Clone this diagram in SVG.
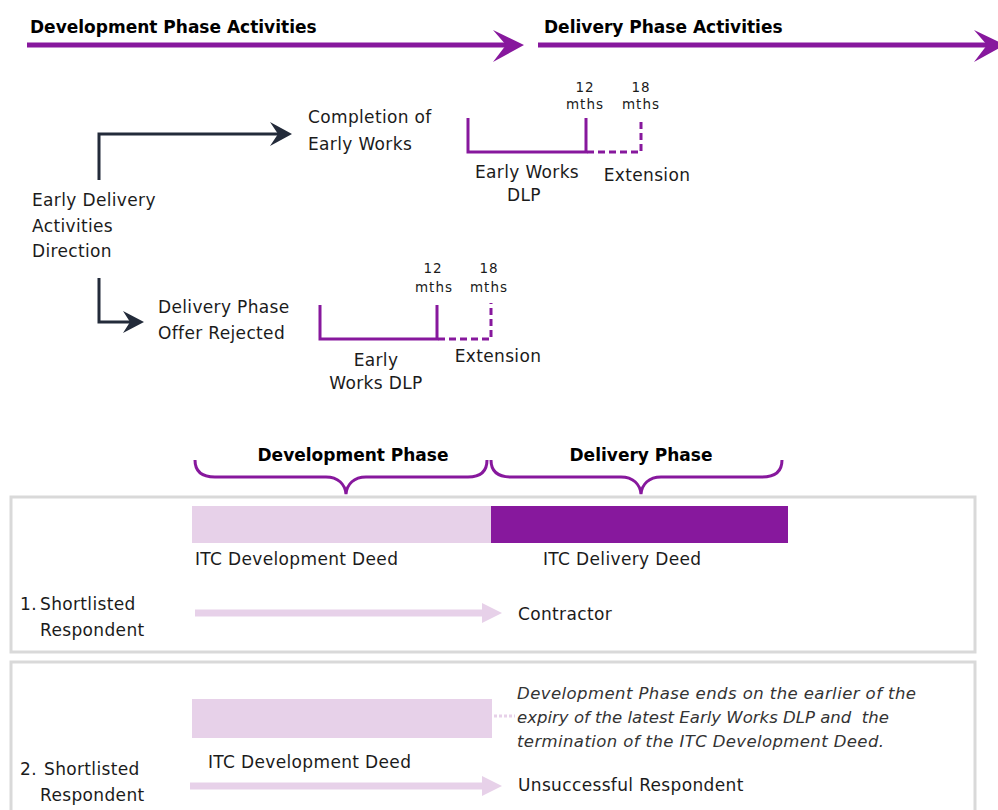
<svg xmlns="http://www.w3.org/2000/svg" width="998" height="810" viewBox="0 0 998 810">
<style>
text{font-family:"DejaVu Sans","Liberation Sans",sans-serif;fill:#1b1b1b;font-size:17px;letter-spacing:0.35px}
.h{font-weight:bold;font-size:17px;fill:#000;letter-spacing:0}
.s{font-size:13.5px;letter-spacing:1px}
.it{font-style:italic;font-size:16.5px;fill:#333;letter-spacing:0;white-space:pre}
.m{text-anchor:middle}
.pur{stroke:#87189D;stroke-width:3;fill:none}
.dash{stroke:#87189D;stroke-width:3;fill:none;stroke-dasharray:7,4}
.dark{stroke:#232B3A;stroke-width:3;fill:none}
.box{fill:#fff;stroke:#D9D9D9;stroke-width:3}
</style>
<rect width="998" height="810" fill="#fff"/>
<g id="phase-arrows">
<line x1="27" y1="45" x2="508" y2="45" stroke="#87189D" stroke-width="5"/>
<polygon points="493,30 524,45 493,62 506,45" fill="#87189D"/>
<line x1="538" y1="45" x2="988" y2="45" stroke="#87189D" stroke-width="5"/>
<polygon points="974,30 1005,45 974,62 987,45" fill="#87189D"/>
<text class="h" x="30" y="33">Development Phase Activities</text>
<text class="h" x="544" y="33">Delivery Phase Activities</text>
</g>
<g id="connectors">
<path class="dark" d="M99,180 V134 H280"/>
<polygon points="270,122 292,134 270,146 278,134" fill="#232B3A"/>
<path class="dark" d="M99,278 V322 H132"/>
<polygon points="123,311 144,322 123,333 130,322" fill="#232B3A"/>
</g>
<g id="early-delivery">
<text x="32" y="206">Early Delivery</text>
<text x="32" y="232">Activities</text>
<text x="32" y="257">Direction</text>
</g>
<g id="completion">
<text x="308" y="123">Completion of</text>
<text x="308" y="150">Early Works</text>
</g>
<g id="dlp-top">
<path class="pur" d="M468,118 V152 H586 V118"/>
<path class="dash" d="M587,152 H641 V118"/>
<text class="s m" x="585" y="92">12</text>
<text class="s m" x="585" y="109">mths</text>
<text class="s m" x="641" y="92">18</text>
<text class="s m" x="641" y="109">mths</text>
<text class="m" x="527" y="178">Early Works</text>
<text class="m" x="524" y="201">DLP</text>
<text class="m" x="647" y="181">Extension</text>
</g>
<g id="rejected">
<text x="158" y="313">Delivery Phase</text>
<text x="158" y="339">Offer Rejected</text>
</g>
<g id="dlp-bottom">
<path class="pur" d="M320,305 V339 H437 V305"/>
<path class="dash" d="M438,339 H491 V303"/>
<text class="s m" x="433" y="273">12</text>
<text class="s m" x="434" y="292">mths</text>
<text class="s m" x="489" y="273">18</text>
<text class="s m" x="489" y="292">mths</text>
<text class="m" x="376" y="366">Early</text>
<text class="m" x="376" y="389">Works DLP</text>
<text class="m" x="498" y="362">Extension</text>
</g>
<g id="braces">
<path class="pur" d="M195,460 C195,472 202,477 215,477 H326 C338,477 345,484 346,494 C347,484 354,477 366,477 H468 C480,477 487,472 487,460"/>
<path class="pur" d="M491,460 C491,472 498,477 511,477 H621 C633,477 640,484 641,494 C642,484 649,477 661,477 H762 C775,477 782,472 782,460"/>
<text class="h m" x="353" y="461">Development Phase</text>
<text class="h m" x="641" y="461">Delivery Phase</text>
</g>
<g id="box1">
<rect class="box" x="11" y="497" width="964" height="155"/>
<rect x="192" y="506" width="299" height="37" fill="#E7D1E9"/>
<rect x="491" y="506" width="297" height="37" fill="#87189D"/>
<text x="195" y="565">ITC Development Deed</text>
<text x="543" y="565">ITC Delivery Deed</text>
<text y="610"><tspan x="20">1.</tspan> <tspan x="40">Shortlisted</tspan></text>
<text x="40" y="636">Respondent</text>
<line x1="195" y1="613" x2="484" y2="613" stroke="#E7D1E9" stroke-width="7"/>
<polygon points="482,603 502,613 482,623" fill="#E7D1E9"/>
<text x="518" y="620">Contractor</text>
</g>
<g id="box2">
<rect class="box" x="11" y="662" width="964" height="160"/>
<rect x="192" y="699" width="300" height="39" fill="#E7D1E9"/>
<line x1="494" y1="716" x2="515" y2="716" stroke="#E7D1E9" stroke-width="3" stroke-dasharray="3,2"/>
<text class="it" x="517" y="699" textLength="399">Development Phase ends on the earlier of the</text>
<text class="it" x="517" y="723" textLength="372">expiry of the latest Early Works DLP and  the</text>
<text class="it" x="517" y="747" textLength="367">termination of the ITC Development Deed.</text>
<text x="208" y="768">ITC Development Deed</text>
<text y="775"><tspan x="20">2.</tspan> <tspan x="44">Shortlisted</tspan></text>
<text x="40" y="801">Respondent</text>
<line x1="190" y1="786" x2="484" y2="786" stroke="#E7D1E9" stroke-width="7"/>
<polygon points="482,776 502,786 482,796" fill="#E7D1E9"/>
<text x="518" y="791">Unsuccessful Respondent</text>
</g>
</svg>
